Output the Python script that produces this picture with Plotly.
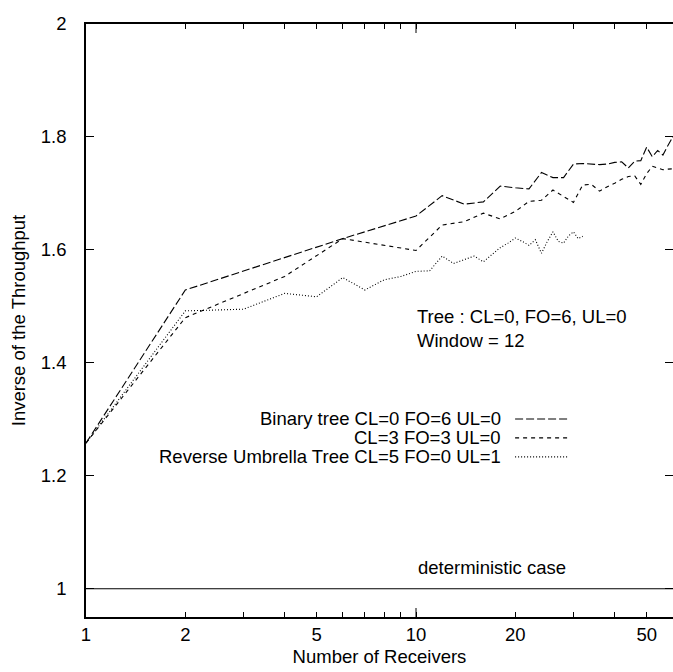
import plotly.graph_objects as go

# ---- data ----
binary_x = [1, 2, 6, 10, 12, 14, 16, 18, 20, 22, 24, 26, 28, 30, 32, 34, 36, 38, 40,
            42, 44, 46, 48, 50, 52, 54, 56, 58, 60, 62]
binary_y = [1.258, 1.529, 1.620, 1.660, 1.696, 1.681, 1.685, 1.713, 1.710, 1.708, 1.737,
            1.728, 1.728, 1.752, 1.753, 1.752, 1.751, 1.752, 1.755, 1.756, 1.745, 1.757,
            1.758, 1.782, 1.765, 1.776, 1.768, 1.785, 1.800, 1.790]

cl3_x = [1, 2, 4, 6, 10, 12, 14, 16, 18, 20, 22, 24, 26, 28, 30, 32, 34, 36, 38, 40,
         42, 44, 46, 48, 50, 52, 54, 56, 58, 60, 62]
cl3_y = [1.258, 1.480, 1.553, 1.620, 1.599, 1.644, 1.650, 1.665, 1.655, 1.668, 1.686,
         1.688, 1.706, 1.695, 1.684, 1.715, 1.716, 1.704, 1.712, 1.718, 1.725, 1.730,
         1.731, 1.716, 1.735, 1.748, 1.745, 1.742, 1.743, 1.743, 1.744]

rut_x = [1, 2, 3, 4, 5, 6, 7, 8, 9, 10, 11, 12, 13, 14, 15, 16, 17, 18, 19, 20,
         21, 22, 23, 24, 25, 26, 27, 28, 29, 30, 31, 32]
rut_y = [1.258, 1.492, 1.495, 1.523, 1.517, 1.551, 1.529, 1.547, 1.553, 1.562, 1.563,
         1.589, 1.576, 1.583, 1.589, 1.579, 1.592, 1.604, 1.612, 1.621, 1.615, 1.608,
         1.618, 1.594, 1.615, 1.632, 1.615, 1.612, 1.625, 1.632, 1.620, 1.624]

det_x = [1, 64]
det_y = [1.0, 1.0]

x_tickvals = [1, 2, 5, 10, 20, 50]
x_minor = [3, 4, 6, 7, 8, 9, 30, 40, 60]
x_long_ticks = [10]
y_tickvals = [1.0, 1.2, 1.4, 1.6, 1.8, 2.0]
y_ticktext = ["1", "1.2", "1.4", "1.6", "1.8", "2"]

legend_labels = ["Binary tree CL=0 FO=6 UL=0",
                 "CL=3 FO=3 UL=0",
                 "Reverse Umbrella Tree CL=5 FO=0 UL=1"]
dashes = ["8px,3px", "4px,4px", "1px,2px"]

FONT = "Liberation Sans, Arial, Helvetica, sans-serif"
FS = 18.5

fig = go.Figure()
for xs, ys, d, name in [(binary_x, binary_y, dashes[0], legend_labels[0]),
                        (cl3_x, cl3_y, dashes[1], legend_labels[1]),
                        (rut_x, rut_y, dashes[2], legend_labels[2])]:
    fig.add_trace(go.Scatter(x=xs, y=ys, mode="lines", name=name,
                             line=dict(color="black", width=1.1, dash=d),
                             showlegend=False))
fig.add_trace(go.Scatter(x=det_x, y=det_y, mode="lines", name="deterministic case",
                         line=dict(color="black", width=1.1), showlegend=False))

# legend (text right aligned, sample on the right)
rows_y = [0.334, 0.302, 0.270]
for lab, d, yy in zip(legend_labels, dashes, rows_y):
    fig.add_annotation(x=0.710, y=yy, xref="paper", yref="paper", text=lab,
                       showarrow=False, xanchor="right", yanchor="middle",
                       font=dict(family=FONT, size=FS, color="black"))
    fig.add_shape(type="line", xref="paper", yref="paper", x0=0.731, x1=0.821,
                  y0=yy, y1=yy, line=dict(color="black", width=1.1, dash=d))

# longer decade ticks (bottom and top)
for xv in x_long_ticks:
    fig.add_shape(type="line", xref="x", yref="paper", x0=xv, x1=xv,
                  y0=0, y1=9 / 593, line=dict(color="black", width=1))
    fig.add_shape(type="line", xref="x", yref="paper", x0=xv, x1=xv,
                  y0=1, y1=1 - 9 / 593, line=dict(color="black", width=1))

fig.add_annotation(x=0.5605, y=0.506, xref="paper", yref="paper",
                   text="Tree : CL=0, FO=6, UL=0", showarrow=False,
                   xanchor="left", yanchor="middle",
                   font=dict(family=FONT, size=FS, color="black"))
fig.add_annotation(x=0.5605, y=0.467, xref="paper", yref="paper",
                   text="Window = 12", showarrow=False,
                   xanchor="left", yanchor="middle",
                   font=dict(family=FONT, size=FS, color="black"))
fig.add_annotation(x=0.562, y=0.0843, xref="paper", yref="paper",
                   text="deterministic case", showarrow=False,
                   xanchor="left", yanchor="middle",
                   font=dict(family=FONT, size=FS, color="black"))

fig.update_layout(
    width=673, height=672,
    margin=dict(l=86, r=0, t=24, b=55, autoexpand=False),
    paper_bgcolor="white", plot_bgcolor="white",
    font=dict(family=FONT, size=FS, color="black"),
    xaxis=dict(type="log", range=[0, 1.7788], automargin=False,
               tickvals=x_tickvals, ticktext=[str(v) for v in x_tickvals],
               ticks="inside", ticklen=5, tickwidth=1, tickcolor="black",
               minor=dict(tickvals=x_minor, ticks="inside", ticklen=5,
                          tickcolor="black", showgrid=False),
               showline=True, linecolor="black", linewidth=1.5, mirror="ticks",
               showgrid=False, zeroline=False,
               title=dict(text="Number of Receivers", standoff=6,
                          font=dict(family=FONT, size=FS)),
               tickfont=dict(family=FONT, size=FS)),
    yaxis=dict(range=[0.95, 2.0], tickvals=y_tickvals, ticktext=y_ticktext,
               automargin=False,
               ticks="inside", ticklen=8, tickwidth=1, tickcolor="black",
               showline=True, linecolor="black", linewidth=1.5, mirror="ticks",
               showgrid=False, zeroline=False, ticklabelstandoff=14,
               title=dict(text="Inverse of the Throughput", standoff=10,
                          font=dict(family=FONT, size=FS)),
               tickfont=dict(family=FONT, size=FS)),
)

fig.write_html("out.html", config={"displayModeBar": False},
               post_script="document.body.style.margin='0';"
                           "document.body.style.overflow='hidden';")
